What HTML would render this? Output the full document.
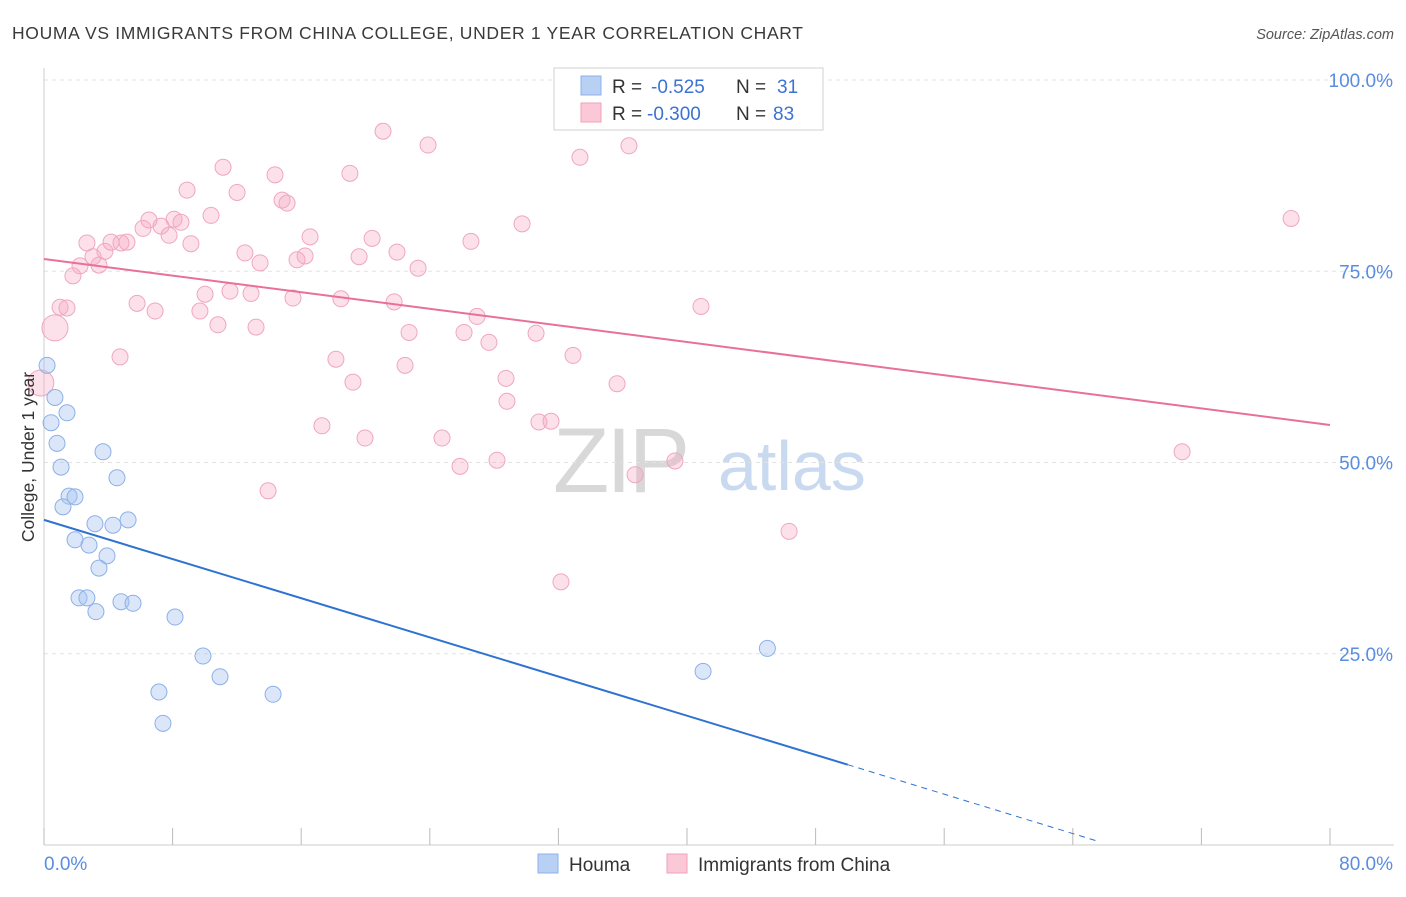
<!DOCTYPE html>
<html><head><meta charset="utf-8"><style>
body{margin:0;background:#fff;font-family:"Liberation Sans",sans-serif;}
svg text{font-family:"Liberation Sans",sans-serif;}
</style></head><body>
<svg id="chart" width="1406" height="892" xmlns="http://www.w3.org/2000/svg">
<text x="12" y="39" font-size="17.5" fill="#3a3a3a" textLength="791" lengthAdjust="spacing">HOUMA VS IMMIGRANTS FROM CHINA COLLEGE, UNDER 1 YEAR CORRELATION CHART</text>
<text x="1394" y="39" font-size="14.5" fill="#555" text-anchor="end" font-style="italic">Source: ZipAtlas.com</text>
<g>
<text x="553" y="492" font-size="92" fill="#d8d8d8" font-family="Liberation Serif" letter-spacing="-3">ZIP</text>
<text x="718" y="490" font-size="70" fill="#c8d9f0">atlas</text>
</g>
<g id="grid"></g>
<g id="axes"></g>
<g id="marks"></g>
<g>
<rect x="554" y="68" width="269" height="62" fill="#fff" stroke="#d0d0d0"/>
<rect x="581" y="76" width="20" height="19" fill="#b8d0f4" stroke="#8fb0e8"/>
<rect x="581" y="103" width="20" height="19" fill="#fbc8d8" stroke="#f0a0bb"/>
<text x="612" y="93" font-size="19" fill="#333">R =</text>
<text x="651" y="93" font-size="19" fill="#3c72d4">-0.525</text>
<text x="736" y="93" font-size="19" fill="#333">N =</text>
<text x="777" y="93" font-size="19" fill="#3c72d4">31</text>
<text x="612" y="120" font-size="19" fill="#333">R =</text>
<text x="647" y="120" font-size="19" fill="#3c72d4">-0.300</text>
<text x="736" y="120" font-size="19" fill="#333">N =</text>
<text x="773" y="120" font-size="19" fill="#3c72d4">83</text>
</g>
<g>
<rect x="538" y="854" width="20" height="19" fill="#b8d0f4" stroke="#8fb0e8"/>
<text x="569" y="871" font-size="19" fill="#333">Houma</text>
<rect x="667" y="854" width="20" height="19" fill="#fbc8d8" stroke="#f0a0bb"/>
<text x="698" y="871" font-size="19" fill="#333">Immigrants from China</text>
</g>
<text transform="translate(34,457) rotate(-90)" font-size="17.5" fill="#333" text-anchor="middle">College, Under 1 year</text>
</svg>
<script>
const xTicks=[0,8,16,24,32,40,48,56,64,72,80];
const yTicks=[25,50,75,100];
const yTickLabels=["25.0%","50.0%","75.0%","100.0%"];
const houmaX=[0.19,0.68,0.44,1.43,0.81,1.06,3.67,4.54,1.56,1.93,1.18,3.17,4.29,5.23,1.93,2.80,3.92,3.42,2.18,2.67,3.23,4.79,5.54,8.15,9.89,10.95,7.15,14.25,7.40,41.0,45.0];
const houmaY=[62.7,58.5,55.2,56.5,52.5,49.4,51.4,48.0,45.6,45.5,44.2,42.0,41.8,42.5,39.9,39.2,37.8,36.2,32.3,32.3,30.5,31.8,31.6,29.8,24.7,22.0,20.0,19.7,15.9,22.7,25.7];
const chinaX=[-0.2,0.68,1.00,1.43,1.80,2.24,2.67,3.05,3.42,3.79,4.17,4.79,5.16,4.73,5.79,6.16,6.53,6.91,7.28,7.78,8.09,8.52,8.90,9.14,9.70,10.02,10.39,10.82,11.14,11.57,12.01,12.50,12.88,13.19,13.44,13.94,14.37,14.81,15.12,15.49,15.74,16.24,16.55,17.29,18.16,18.47,19.03,19.22,19.60,19.97,20.41,21.09,21.78,21.96,22.46,22.71,23.27,23.89,24.76,25.88,26.13,26.56,26.94,27.68,28.18,28.74,28.80,29.74,30.61,30.79,31.54,32.16,32.91,33.34,34.40,35.65,36.39,36.77,39.25,40.87,46.35,70.80,77.58];
const chinaY=[60.4,67.6,70.3,70.2,74.4,75.7,78.7,76.9,75.8,77.6,78.8,78.7,78.8,63.8,70.8,80.6,81.7,69.8,80.9,79.7,81.8,81.4,85.6,78.6,69.8,72.0,82.3,68.0,88.6,72.4,85.3,77.4,72.1,67.7,76.1,46.3,87.6,84.3,83.9,71.5,76.5,77.0,79.5,54.8,63.5,71.4,87.8,60.5,76.9,53.2,79.3,93.3,71.0,77.5,62.7,67.0,75.4,91.5,53.2,49.5,67.0,78.9,69.1,65.7,50.3,61.0,58.0,81.2,66.9,55.3,55.4,34.4,64.0,89.9,98.0,60.3,91.4,48.4,50.2,70.4,41.0,51.4,81.9];
const houmaTrend=[[0,42.5],[50,10.5],[65.7,0.4]];
const chinaTrend=[[0,76.6],[80,54.9]];
const X=v=>44+v/80*1286, Y=v=>845-v/100*765;
const NS="http://www.w3.org/2000/svg";
function mk(parent,tag,attrs){const e=document.createElementNS(NS,tag);for(const k in attrs)e.setAttribute(k,attrs[k]);document.getElementById(parent).appendChild(e);return e;}
yTicks.forEach((t,i)=>{
 const g=mk('grid','line',{x1:44,x2:1394,y1:Y(t),y2:Y(t),stroke:'#e2e2e2','stroke-dasharray':'4,4'});
 
 
 const l=mk('axes','text',{x:1393,y:Y(t)+7,'font-size':19,fill:'#5a8de0','text-anchor':'end'});
 l.textContent=yTickLabels[i];
 
 
});
const ax=mk('axes','line',{x1:44,x2:44,y1:68,y2:845,stroke:'#ccc'});


const bx=mk('axes','line',{x1:44,x2:1394,y1:845,y2:845,stroke:'#ccc'});


xTicks.forEach(t=>{
 const k=mk('axes','line',{x1:X(t),x2:X(t),y1:828,y2:845,stroke:'#bbb'});
 
 
});
const x0=mk('axes','text',{x:44,y:870,'font-size':19,fill:'#5a8de0'});x0.textContent=xTicks[0].toFixed(1)+'%';


const x1=mk('axes','text',{x:1393,y:870,'font-size':19,fill:'#5a8de0','text-anchor':'end'});x1.textContent=xTicks[xTicks.length-1].toFixed(1)+'%';


chinaX.forEach((v,i)=>{
 const r=i<2?13:8;
 const c=mk('marks','circle',{cx:X(v),cy:Y(chinaY[i]),r:r,fill:'rgba(246,170,196,0.35)',stroke:'#f0a6c0','stroke-width':1});
 
 
});
houmaX.forEach((v,i)=>{
 const c=mk('marks','circle',{cx:X(v),cy:Y(houmaY[i]),r:8,fill:'rgba(165,195,240,0.4)',stroke:'#8cb0e8','stroke-width':1});
 
 
});
const hl=mk('marks','line',{x1:X(houmaTrend[0][0]),y1:Y(houmaTrend[0][1]),x2:X(houmaTrend[1][0]),y2:Y(houmaTrend[1][1]),stroke:'#2e72d2','stroke-width':2});


const hd=mk('marks','line',{x1:X(houmaTrend[1][0]),y1:Y(houmaTrend[1][1]),x2:X(houmaTrend[2][0]),y2:Y(houmaTrend[2][1]),stroke:'#2e72d2','stroke-width':1,'stroke-dasharray':'6,5'});


const cl=mk('marks','line',{x1:X(chinaTrend[0][0]),y1:Y(chinaTrend[0][1]),x2:X(chinaTrend[1][0]),y2:Y(chinaTrend[1][1]),stroke:'#e8709a','stroke-width':2});


</script>
</body></html>
